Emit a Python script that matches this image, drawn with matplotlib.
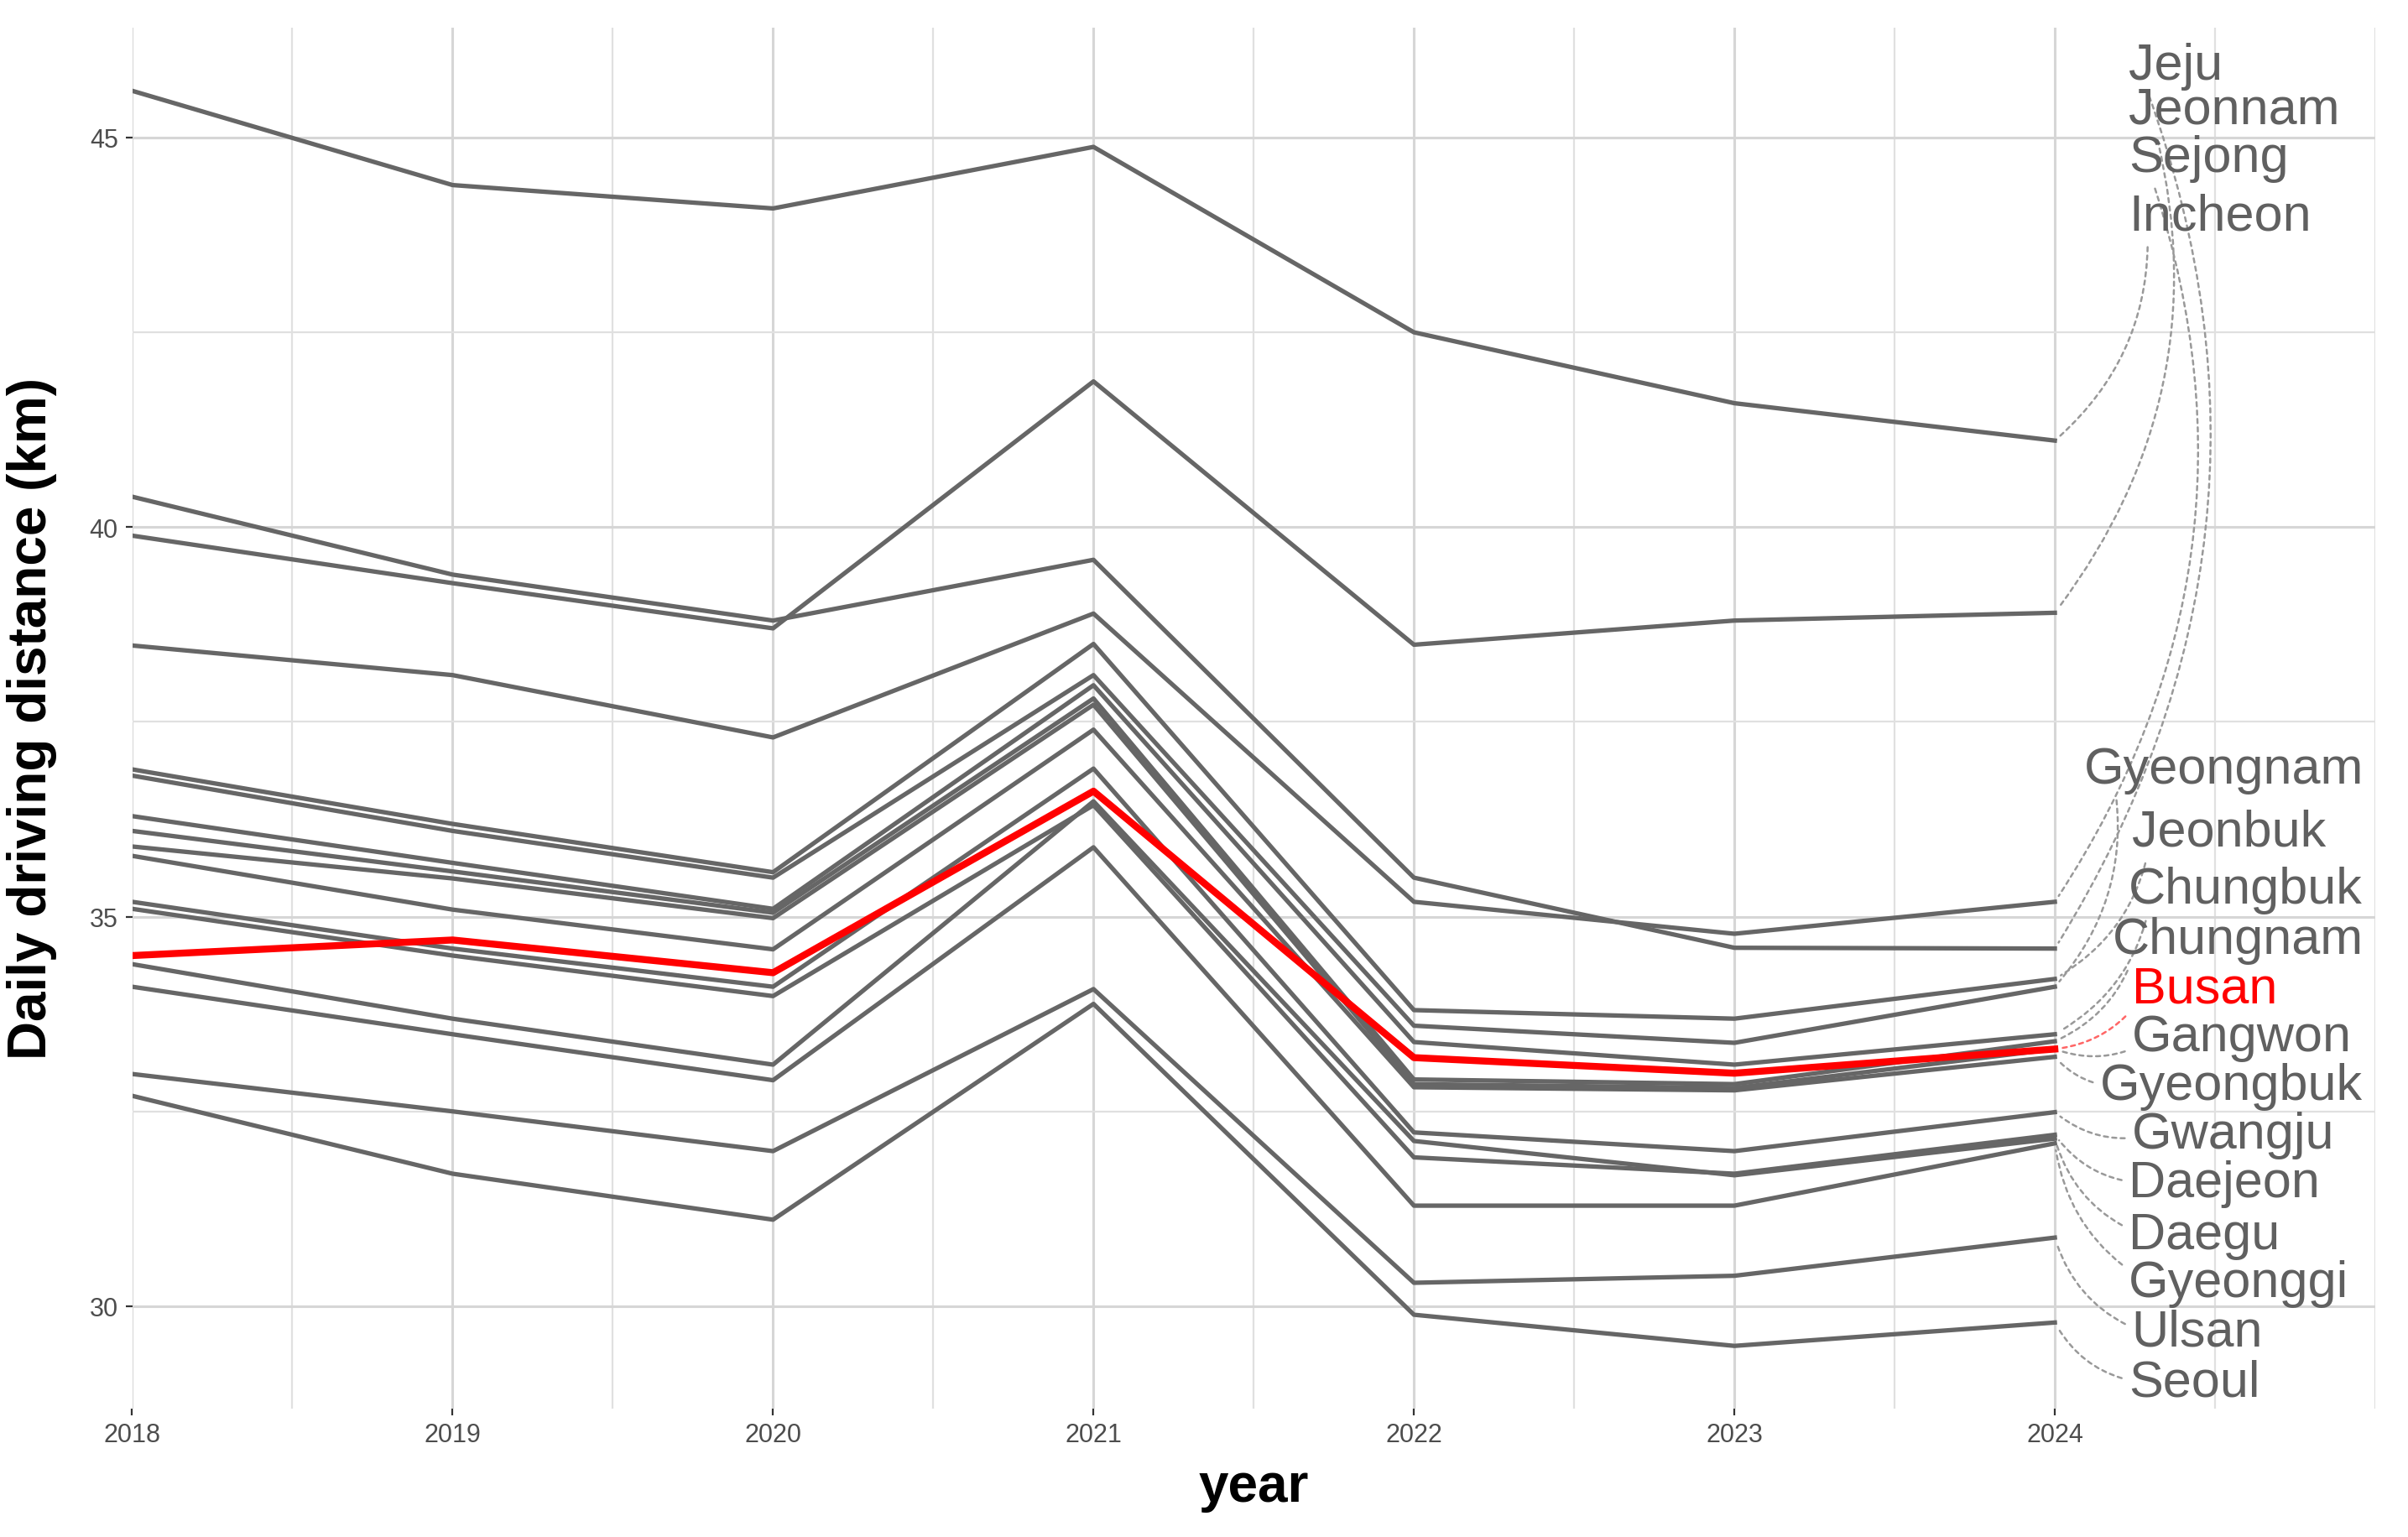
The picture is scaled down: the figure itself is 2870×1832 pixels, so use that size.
import matplotlib
matplotlib.use('Agg')
import matplotlib.pyplot as plt
from matplotlib.ticker import FixedLocator

plt.rcParams['font.family'] = ['Liberation Sans', 'DejaVu Sans']

years = [2018, 2019, 2020, 2021, 2022, 2023, 2024]

# daily driving distance (km) per region, 2018..2024
jeju = [40.39, 39.39, 38.80, 39.58, 35.50, 34.60, 34.59]
jeonnam = [39.89, 39.28, 38.70, 41.87, 38.49, 38.80, 38.90]
sejong = [38.48, 38.10, 37.30, 38.89, 35.19, 34.78, 35.19]
incheon = [45.60, 44.39, 44.09, 44.88, 42.50, 41.59, 41.11]
gyeongnam = [36.81, 36.10, 35.50, 38.10, 33.60, 33.38, 34.10]
jeonbuk = [36.89, 36.19, 35.57, 38.50, 33.80, 33.69, 34.20]
chungbuk = [36.29, 35.69, 35.10, 37.97, 33.39, 33.10, 33.49]
chungnam = [36.10, 35.58, 35.05, 37.80, 32.91, 32.85, 33.40]
busan = [34.50, 34.70, 34.28, 36.61, 33.19, 32.99, 33.30]
gangwon = [35.90, 35.49, 34.98, 37.72, 32.85, 32.80, 33.30]
gyeongbuk = [35.78, 35.09, 34.58, 37.40, 32.81, 32.77, 33.20]
gwangju = [35.19, 34.59, 34.10, 36.90, 32.23, 31.99, 32.49]
daejeon = [35.10, 34.50, 33.98, 36.43, 31.91, 31.70, 32.20]
daegu = [34.39, 33.69, 33.10, 36.48, 32.12, 31.68, 32.15]
gyeonggi = [34.10, 33.49, 32.90, 35.89, 31.29, 31.29, 32.09]
ulsan = [32.98, 32.50, 31.99, 34.07, 30.30, 30.39, 30.88]
seoul = [32.70, 31.70, 31.11, 33.88, 29.89, 29.49, 29.79]

regions = ['Jeju', 'Jeonnam', 'Sejong', 'Incheon', 'Gyeongnam', 'Jeonbuk', 'Chungbuk',
           'Chungnam', 'Busan', 'Gangwon', 'Gyeongbuk', 'Gwangju', 'Daejeon', 'Daegu',
           'Gyeonggi', 'Ulsan', 'Seoul']
values = [jeju, jeonnam, sejong, incheon, gyeongnam, jeonbuk, chungbuk, chungnam, busan,
          gangwon, gyeongbuk, gwangju, daejeon, daegu, gyeonggi, ulsan, seoul]
highlight = 'Busan'

# repelled label positions (layout only)
label_x = [2024.23, 2024.23, 2024.23, 2024.23, 2024.09, 2024.24, 2024.23, 2024.18, 2024.24,
           2024.24, 2024.14, 2024.24, 2024.23, 2024.23, 2024.23, 2024.24, 2024.23]
label_y = [45.92, 45.36, 44.74, 43.99, 36.89, 36.08, 35.34, 34.70, 34.07,
           33.45, 32.83, 32.20, 31.58, 30.91, 30.29, 29.66, 29.02]

W, H, DPI = 2870, 1833, 200
fig = plt.figure(figsize=(W / DPI, H / DPI), dpi=DPI)
ax = fig.add_axes([157.5 / W, 1 - 1679.5 / H, 2673.5 / W, 1645.5 / H])

for name, vals in zip(regions, values):
    if name != highlight:
        ax.plot(years, vals, color='#666666', lw=1.9, zorder=3)
for name, vals in zip(regions, values):
    if name == highlight:
        ax.plot(years, vals, color='#ff0000', lw=3.0, zorder=4)

for name, vals, lx, ly in zip(regions, values, label_x, label_y):
    red = name == highlight
    ax.annotate(name, xy=(years[-1], vals[-1]), xytext=(lx, ly),
                ha='left', va='center', fontsize=22,
                color='#ff0000' if red else '#606060',
                annotation_clip=False, zorder=5,
                arrowprops=dict(arrowstyle='-', color='#ff6666' if red else '#999999',
                                lw=0.9, linestyle=(0, (2, 2)),
                                connectionstyle='arc3,rad=-0.25',
                                shrinkA=1, shrinkB=3, relpos=(0.1, 0.5)))

ax.set_xlim(2018, 2025)
ax.set_ylim(28.69, 46.41)
ax.xaxis.set_major_locator(FixedLocator(years))
ax.xaxis.set_minor_locator(FixedLocator([y + 0.5 for y in years] + [2025]))
ax.yaxis.set_major_locator(FixedLocator([30, 35, 40, 45]))
ax.yaxis.set_minor_locator(FixedLocator([32.5, 37.5, 42.5]))

ax.grid(which='major', color='#d6d6d6', lw=1.1)
ax.grid(which='minor', color='#e0e0e0', lw=0.8)
ax.set_axisbelow(True)
for s in ax.spines.values():
    s.set_visible(False)

ax.tick_params(which='major', length=3, width=0.8, color='#333333',
               labelsize=11, labelcolor='#4d4d4d', pad=3)
ax.tick_params(which='minor', length=0)

ax.set_xlabel('year', fontsize=23, fontweight='bold', labelpad=6)
ax.set_ylabel('Daily driving distance (km)', fontsize=23, fontweight='bold', labelpad=14)

fig.savefig('out.png', dpi=DPI)
